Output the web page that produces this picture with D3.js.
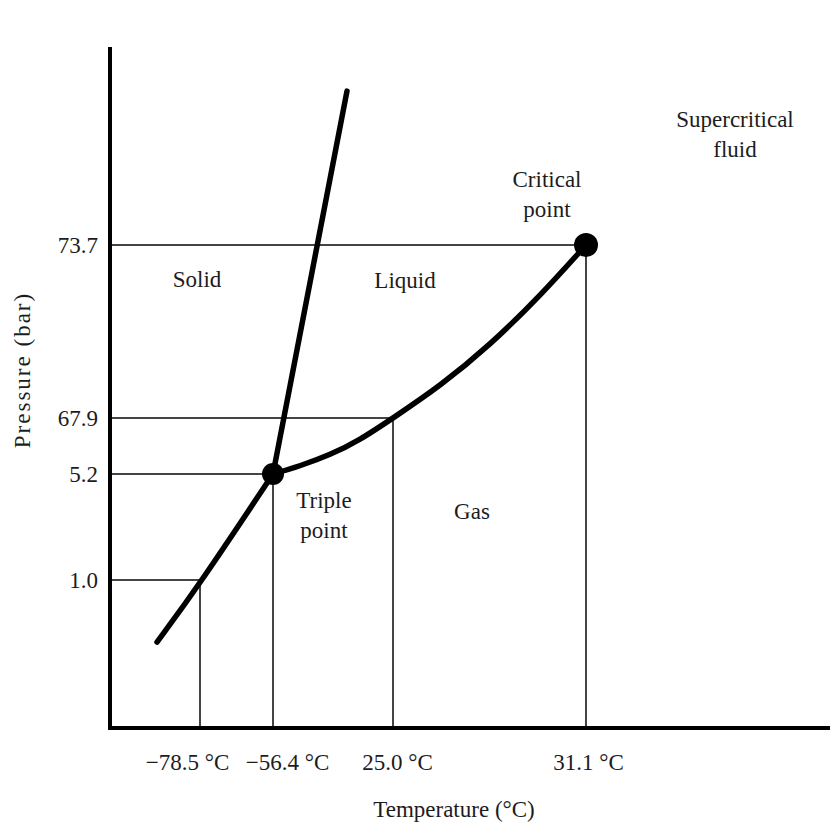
<!DOCTYPE html>
<html>
<head>
<meta charset="utf-8">
<script src="https://cdn.jsdelivr.net/npm/d3@7"></script>
<style>
  body { margin: 0; background: #fff; }
  svg { display: block; }
  text { font-family: "Liberation Serif", "Times New Roman", serif; fill: #1c1c1c; }
</style>
</head>
<body>
<svg id="chart" width="830" height="828"></svg>
<script>
// Reference temperatures (°C) and pressures (bar) marked on the axes
const temperatureTicks = [-78.5, -56.4, 25.0, 31.1];
const pressureTicks = [1.0, 5.2, 67.9, 73.7];
const temperatureLabels = ["\u221278.5 \u00B0C", "\u221256.4 \u00B0C", "25.0 \u00B0C", "31.1 \u00B0C"];
const pressureLabels = ["1.0", "5.2", "67.9", "73.7"];

// Phase boundaries of CO2 as [temperature °C, pressure bar]
const sublimationCurve = [[-91.52, -1.46], [-78.5, 0.85], [-56.4, 5.2]];
const meltingCurve = [[-56.4, 5.2], [-6.20, 78.86]];
const vaporCurve = [[-56.4, 5.2], [-38.08, 14.16], [-17.73, 26.47], [2.61, 43.27], [25.0, 67.9],
                    [26.49, 68.97], [28.07, 70.35], [29.65, 71.99], [31.1, 73.7]];
const triplePoint = [-56.4, 5.2];
const criticalPoint = [31.1, 73.7];

// Text written inside the diagram
const regionNames = [["Solid"], ["Liquid"], ["Triple", "point"], ["Gas"], ["Critical", "point"], ["Supercritical", "fluid"]];

// ---- layout ----
const svg = d3.select("#chart");
const frame = { left: 110, top: 47, right: 830, bottom: 728 };

// The diagram is schematic: each marked value gets its own spot on the axis,
// so both scales are piecewise-linear through the marked values.
const x = d3.scaleLinear().domain(temperatureTicks).range([200, 273, 393, 586]);
const y = d3.scaleLinear().domain(pressureTicks).range([580, 474, 418, 245]);

// Guide lines from each marked (temperature, pressure) pair to both axes
const guides = svg.append("g")
  .attr("stroke", "#444").attr("stroke-width", 2).attr("fill", "none");
temperatureTicks.forEach((t, i) => {
  const p = pressureTicks[i];
  guides.append("line")
    .attr("x1", frame.left).attr("x2", x(t))
    .attr("y1", y(p)).attr("y2", y(p));
  guides.append("line")
    .attr("x1", x(t)).attr("x2", x(t))
    .attr("y1", y(p)).attr("y2", frame.bottom);
});

// Axes
const xAxis = svg.append("g")
  .attr("transform", `translate(0,${frame.bottom})`)
  .call(d3.axisBottom(x).tickValues(temperatureTicks)
    .tickFormat((d, i) => temperatureLabels[i]).tickSize(0).tickPadding(26));
xAxis.select(".domain").remove();
const xLabelShift = [-13, 14, 4, 2];
xAxis.selectAll(".tick text")
  .attr("font-size", 23).attr("font-family", null).attr("fill", "#1c1c1c")
  .attr("dx", (d, i) => xLabelShift[i]);

const yAxis = svg.append("g")
  .attr("transform", `translate(${frame.left},0)`)
  .call(d3.axisLeft(y).tickValues(pressureTicks)
    .tickFormat((d, i) => pressureLabels[i]).tickSize(0).tickPadding(12));
yAxis.select(".domain").remove();
yAxis.selectAll(".tick text")
  .attr("font-size", 23).attr("font-family", null).attr("fill", "#1c1c1c");

svg.append("line")
  .attr("x1", frame.left).attr("x2", frame.left)
  .attr("y1", frame.top).attr("y2", frame.bottom + 2)
  .attr("stroke", "#000").attr("stroke-width", 4);
svg.append("line")
  .attr("x1", frame.left - 2).attr("x2", frame.right)
  .attr("y1", frame.bottom).attr("y2", frame.bottom)
  .attr("stroke", "#000").attr("stroke-width", 4);

// Axis titles
svg.append("text")
  .attr("x", 454).attr("y", 817)
  .attr("text-anchor", "middle").attr("font-size", 23)
  .text("Temperature (\u00B0C)");
svg.append("text")
  .attr("transform", "translate(30,370) rotate(-90)")
  .attr("text-anchor", "middle").attr("font-size", 23)
  .attr("letter-spacing", 2)
  .text("Pressure (bar)");

// Phase boundaries, drawn as smooth B-splines through the boundary points
const line = d3.line().x(d => x(d[0])).y(d => y(d[1])).curve(d3.curveBasis);
const boundaries = svg.append("g")
  .attr("fill", "none").attr("stroke", "#000")
  .attr("stroke-width", 5.5).attr("stroke-linecap", "round").attr("stroke-linejoin", "round");
[sublimationCurve, meltingCurve, vaporCurve].forEach(c => {
  boundaries.append("path").attr("d", line(c));
});

// Triple and critical points
svg.append("circle")
  .attr("cx", x(triplePoint[0])).attr("cy", y(triplePoint[1])).attr("r", 11).attr("fill", "#000");
svg.append("circle")
  .attr("cx", x(criticalPoint[0])).attr("cy", y(criticalPoint[1])).attr("r", 12).attr("fill", "#000");

// Region and point names (first-line baseline positions)
const namePlaces = [[197, 287], [405, 288], [324, 508], [472, 519], [547, 187], [735, 127]];
regionNames.forEach((lines, i) => {
  const [cx, cy] = namePlaces[i];
  const t = svg.append("text")
    .attr("x", cx).attr("y", cy)
    .attr("text-anchor", "middle").attr("font-size", 23);
  lines.forEach((s, j) => {
    t.append("tspan").attr("x", cx).attr("dy", j === 0 ? 0 : 30).text(s);
  });
});
</script>
</body>
</html>
